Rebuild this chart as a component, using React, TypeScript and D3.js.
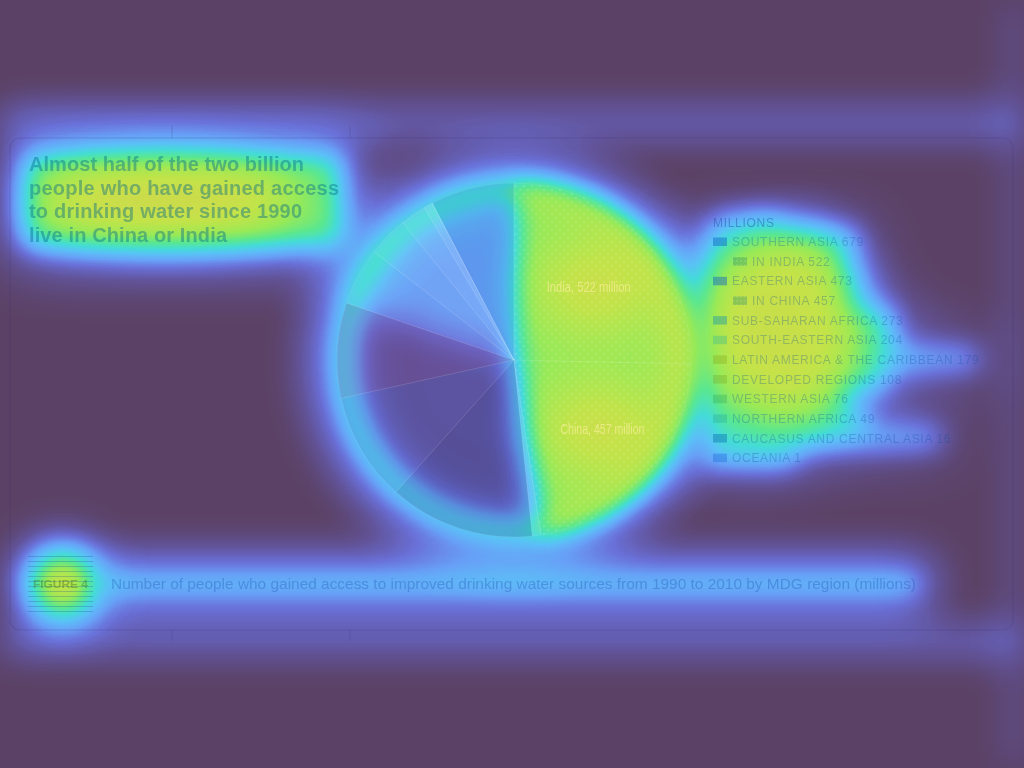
import React, { useMemo } from "react";
import * as d3 from "d3";

// ---------- data ----------
const regionNames = [
  "SOUTHERN ASIA",
  "EASTERN ASIA",
  "SUB-SAHARAN AFRICA",
  "SOUTH-EASTERN ASIA",
  "LATIN AMERICA & THE CARIBBEAN",
  "DEVELOPED REGIONS",
  "WESTERN ASIA",
  "NORTHERN AFRICA",
  "CAUCASUS AND CENTRAL ASIA",
  "OCEANIA",
];
const regionValues = [679, 473, 273, 204, 179, 108, 76, 49, 16, 1];
const countryNames = ["INDIA", "CHINA"];
const countryLabels = ["India", "China"];
const countryValues = [522, 457];
const countryParent = [0, 1];

const titleLines = [
  "Almost half of the two billion",
  "people who have gained access",
  "to drinking water since 1990",
  "live in China or India",
];
const legendTitle = "MILLIONS";
const figureLabel = "FIGURE 4";
const captionText =
  "Number of people who gained access to improved drinking water sources from 1990 to 2010 by MDG region (millions)";

// ---------- styling ----------
const W = 1024;
const H = 768;
const CX = 514;
const CY = 360;
const R = 177;

const heatStops: [number, string][] = [
  [0.0, "#5b4163"],
  [0.1, "#62549a"],
  [0.2, "#6a70d8"],
  [0.3, "#68a0f8"],
  [0.4, "#5cc0f8"],
  [0.5, "#44dcd8"],
  [0.6, "#5ae890"],
  [0.7, "#98ea58"],
  [0.8, "#c4e448"],
  [0.9, "#dccc50"],
  [1.0, "#e8a848"],
];

const sliceTint: Record<string, [string, number]> = {
  INDIA: ["#ffffff", 0.0],
  CHINA: ["#ffffff", 0.0],
  "EASTERN ASIA": ["#ffffff", 0.08],
  "SUB-SAHARAN AFRICA": ["#101850", 0.16],
  "SOUTH-EASTERN ASIA": ["#2a2a70", 0.1],
  "LATIN AMERICA & THE CARIBBEAN": ["#7a1838", 0.14],
  "DEVELOPED REGIONS": ["#ffffff", 0.04],
  "WESTERN ASIA": ["#ffffff", 0.07],
  "NORTHERN AFRICA": ["#ffffff", 0.1],
  "CAUCASUS AND CENTRAL ASIA": ["#ffffff", 0.16],
  OCEANIA: ["#ffffff", 0.16],
  "SOUTHERN ASIA": ["#1a50b0", 0.12],
};

const swatchTint: Record<string, [string, number]> = {
  "SOUTHERN ASIA": ["#1060c8", 0.45],
  INDIA: ["#10806a", 0.35],
  "EASTERN ASIA": ["#1060c8", 0.45],
  CHINA: ["#10806a", 0.35],
  "SUB-SAHARAN AFRICA": ["#0a90b0", 0.4],
  "SOUTH-EASTERN ASIA": ["#20b0a0", 0.3],
  "LATIN AMERICA & THE CARIBBEAN": ["#80a010", 0.3],
  "DEVELOPED REGIONS": ["#70a020", 0.3],
  "WESTERN ASIA": ["#30a050", 0.3],
  "NORTHERN AFRICA": ["#20a090", 0.3],
  "CAUCASUS AND CENTRAL ASIA": ["#0a70b0", 0.45],
  OCEANIA: ["#2a70e0", 0.45],
};

const sansFont = "'Liberation Sans', Arial, Helvetica, sans-serif";

type Slice = { key: string; value: number };

function heatTable() {
  const s = d3
    .scaleLinear<string>()
    .domain(heatStops.map((d) => d[0]))
    .range(heatStops.map((d) => d[1]))
    .interpolate(d3.interpolateRgb);
  const n = 64;
  const r: string[] = [];
  const g: string[] = [];
  const b: string[] = [];
  for (let i = 0; i < n; i++) {
    const c = d3.rgb(s(i / (n - 1)));
    r.push((c.r / 255).toFixed(4));
    g.push((c.g / 255).toFixed(4));
    b.push((c.b / 255).toFixed(4));
  }
  return { r: r.join(" "), g: g.join(" "), b: b.join(" ") };
}

export default function App() {
  const table = useMemo(heatTable, []);

  const slices: Slice[] = useMemo(() => {
    const out: Slice[] = [];
    out.push({ key: countryNames[0], value: countryValues[0] });
    out.push({ key: countryNames[1], value: countryValues[1] });
    out.push({ key: regionNames[1], value: regionValues[1] - countryValues[1] });
    for (let i = 2; i < regionNames.length; i++) out.push({ key: regionNames[i], value: regionValues[i] });
    out.push({ key: regionNames[0], value: regionValues[0] - countryValues[0] });
    return out;
  }, []);

  const arcs = d3.pie<Slice>().sort(null).value((d) => d.value)(slices);
  const arcGen = d3.arc<d3.PieArcDatum<Slice>>().innerRadius(0).outerRadius(R);
  const labelArc = d3.arc<d3.PieArcDatum<Slice>>().innerRadius(R * 1.18).outerRadius(0);

  type Row = { key: string; text: string; indent: boolean };
  const rows: Row[] = [];
  regionNames.forEach((n, i) => {
    rows.push({ key: n, text: `${n} ${regionValues[i]}`, indent: false });
    countryParent.forEach((p, j) => {
      if (p === i) rows.push({ key: countryNames[j], text: `IN ${countryNames[j]} ${countryValues[j]}`, indent: true });
    });
  });
  const legendX = 713;
  const legendY0 = 246;
  const rowStep = 19.65;
  const yRow = d3.scaleLinear().domain([0, 1]).range([legendY0, legendY0 + rowStep]);
  const rowW = (r: Row) => (r.indent ? 38 : 19) + r.text.length * 7.6;

  const titleX = 29;
  const titleY0 = 171;
  const titleStep = 23.5;
  const titleWidths = [275, 310, 273, 198];

  const capY = 589;
  const stripeYs = d3.range(12).map((i) => 556 + i * 5);

  const blurF = (id: string, sd: number) => (
    <filter id={id} filterUnits="userSpaceOnUse" x={-300} y={-300} width={W + 600} height={H + 600}>
      <feGaussianBlur stdDeviation={sd} />
    </filter>
  );

  const countryArcs = arcs.filter((a) => countryNames.includes(a.data.key));
  const upperLeft = arcs.filter((a) =>
    ["DEVELOPED REGIONS", "WESTERN ASIA", "NORTHERN AFRICA", "CAUCASUS AND CENTRAL ASIA", "OCEANIA"].includes(a.data.key)
  );
  const saRest = arcs.filter((a) => a.data.key === regionNames[0] || a.data.key === regionNames[1]);

  return (
    <svg
      width={W}
      height={H}
      viewBox={`0 0 ${W} ${H}`}
      style={{ position: "absolute", left: 0, top: 0, display: "block" }}
    >
      <defs>
        {blurF("b10", 10)}
        {blurF("b14", 14)}
        {blurF("b18", 18)}
        {blurF("b24", 24)}
        {blurF("b32", 32)}
        <filter
          id="heatmap"
          filterUnits="userSpaceOnUse"
          x={0}
          y={0}
          width={W}
          height={H}
          colorInterpolationFilters="sRGB"
        >
          <feColorMatrix
            in="SourceAlpha"
            type="matrix"
            values="0 0 0 1 0  0 0 0 1 0  0 0 0 1 0  0 0 0 0 1"
          />
          <feComponentTransfer>
            <feFuncR type="table" tableValues={table.r} />
            <feFuncG type="table" tableValues={table.g} />
            <feFuncB type="table" tableValues={table.b} />
          </feComponentTransfer>
        </filter>
        <pattern id="dots" width={8} height={8} patternUnits="userSpaceOnUse">
          <circle cx={2} cy={2} r={1.3} fill="#ffffff" opacity={0.12} />
          <circle cx={6} cy={6} r={1.3} fill="#ffffff" opacity={0.12} />
        </pattern>
        <pattern id="dotsSmall" width={4} height={4} patternUnits="userSpaceOnUse">
          <rect width={4} height={4} fill="#10806a" opacity={0.3} />
          <circle cx={1} cy={1} r={0.8} fill="#ffffff" opacity={0.25} />
        </pattern>
      </defs>

      {/* ---------- attention heat layer ---------- */}
      <g filter="url(#heatmap)">
        <rect x={0} y={0} width={W} height={H} fill="#fff" opacity={0.004} />
        <g filter="url(#b18)" fill="#fff">
          <rect x={0} y={106} width={W} height={34} opacity={0.17} />
          <rect x={0} y={626} width={W} height={30} opacity={0.18} />
          <rect x={1004} y={0} width={20} height={H} opacity={0.1} />
        </g>
        {/* title */}
        <g filter="url(#b32)" fill="#fff">
          <rect x={12} y={142} width={345} height={118} opacity={0.32} />
        </g>
        <g filter="url(#b14)" fill="#fff">
          <rect x={24} y={154} width={318} height={92} opacity={0.5} />
        </g>
        <g filter="url(#b24)" fill="#fff">
          <ellipse cx={165} cy={200} rx={130} ry={42} opacity={0.55} />
        </g>
        {/* pie */}
        <g filter="url(#b24)" transform={`translate(${CX},${CY})`}>
          <circle r={R} fill="none" stroke="#fff" strokeWidth={56} opacity={0.3} />
          <circle r={R - 40} fill="#fff" opacity={0.12} />
        </g>
        <g filter="url(#b10)" transform={`translate(${CX},${CY})`}>
          <circle r={R - 6} fill="none" stroke="#fff" strokeWidth={22} opacity={0.3} />
        </g>
        <g filter="url(#b14)" fill="#fff" transform={`translate(${CX},${CY})`}>
          {countryArcs.map((a) => (
            <path key={a.data.key} d={arcGen(a) || ""} opacity={0.63} />
          ))}
        </g>
        <g filter="url(#b18)" fill="#fff" transform={`translate(${CX},${CY})`}>
          {upperLeft.map((a) => (
            <path key={a.data.key} d={arcGen(a) || ""} opacity={0.2} />
          ))}
          {saRest.map((a) => (
            <path key={a.data.key} d={arcGen(a) || ""} opacity={0.22} />
          ))}
        </g>
        <g filter="url(#b32)" fill="#fff" transform={`translate(${CX},${CY})`}>
          {countryArcs.map((a) => {
            const [x, y] = labelArc.centroid(a);
            return <ellipse key={a.data.key} cx={x + 6} cy={y} rx={62} ry={42} opacity={0.6} />;
          })}
        </g>
        {/* legend */}
        <g filter="url(#b32)" fill="#fff">
          {rows.map((r, i) => (
            <rect key={r.key} x={legendX - 20} y={yRow(i) - 18} width={rowW(r) + 30} height={24} opacity={0.26} />
          ))}
          <ellipse cx={700} cy={335} rx={24} ry={95} opacity={0.22} />
        </g>
        <g filter="url(#b14)" fill="#fff">
          {rows.map((r, i) => (
            <rect key={r.key} x={legendX - 4} y={yRow(i) - 13} width={rowW(r)} height={16} opacity={0.42} />
          ))}
          <rect x={legendX - 4} y={legendY0 - 33} width={70} height={16} opacity={0.3} />
        </g>
        <g filter="url(#b24)" fill="#fff">
          <ellipse cx={785} cy={325} rx={80} ry={100} opacity={0.6} />
        </g>
        {/* caption */}
        <g filter="url(#b24)" fill="#fff">
          <rect x={96} y={562} width={834} height={44} opacity={0.4} />
        </g>
        <g filter="url(#b10)" fill="#fff">
          <rect x={106} y={577} width={812} height={14} opacity={0.2} />
        </g>
        <g filter="url(#b24)" fill="#fff">
          <circle cx={62} cy={584} r={46} opacity={0.35} />
        </g>
        <g filter="url(#b18)" fill="#fff">
          <ellipse cx={62} cy={584} rx={30} ry={30} opacity={0.9} />
        </g>
      </g>

      {/* ---------- chart ---------- */}
      <rect
        x={10}
        y={138}
        width={1003}
        height={492}
        rx={10}
        fill="none"
        stroke="#38307a"
        strokeOpacity={0.22}
      />
      {[172, 350].map((x) => (
        <g key={x} stroke="#38307a" strokeOpacity={0.22}>
          <line x1={x} x2={x} y1={126} y2={138} />
          <line x1={x} x2={x} y1={630} y2={641} />
        </g>
      ))}

      {/* title */}
      <g fontFamily={sansFont} fontWeight="bold" fontSize={20} fill="#006a8a" fillOpacity={0.42}>
        {titleLines.map((t, i) => (
          <text key={i} x={titleX} y={titleY0 + i * titleStep} textLength={titleWidths[i]} lengthAdjust="spacing">
            {t}
          </text>
        ))}
      </g>

      {/* pie */}
      <g transform={`translate(${CX},${CY})`}>
        {arcs.map((a) => {
          const [c, o] = sliceTint[a.data.key];
          return (
            <path
              key={a.data.key}
              d={arcGen(a) || ""}
              fill={c}
              fillOpacity={o}
              stroke="#ffffff"
              strokeOpacity={0.1}
              strokeWidth={0.8}
            />
          );
        })}
        {countryArcs.map((a) => (
          <path key={"p" + a.data.key} d={arcGen(a) || ""} fill="url(#dots)" />
        ))}
        {countryArcs.map((a, i) => {
          const [x, y] = labelArc.centroid(a);
          return (
            <text
              key={"l" + a.data.key}
              x={x + (i === 1 ? 10 : 0)}
              y={y + 5}
              textAnchor="middle"
              fontFamily={sansFont}
              fontSize={14}
              fill="#fff0a0"
              fillOpacity={0.65}
              textLength={84}
              lengthAdjust="spacingAndGlyphs"
            >
              {`${countryLabels[i]}, ${countryValues[i]} million`}
            </text>
          );
        })}
      </g>

      {/* legend */}
      <g fontFamily={sansFont} fontSize={12} letterSpacing={0.7}>
        <text x={legendX} y={legendY0 - 19.5} fill="#1a40a0" fillOpacity={0.4}>
          {legendTitle}
        </text>
        {rows.map((r, i) => {
          const [c, o] = swatchTint[r.key];
          const sx = r.indent ? legendX + 20 : legendX;
          return (
            <g key={r.key}>
              <rect
                x={sx}
                y={yRow(i) - 8.5}
                width={14}
                height={8.5}
                fill={r.indent ? "url(#dotsSmall)" : c}
                fillOpacity={r.indent ? 1 : o}
              />
              <text x={sx + 19} y={yRow(i)} fill="#0a4a9a" fillOpacity={0.28}>
                {r.text}
              </text>
            </g>
          );
        })}
      </g>

      {/* caption */}
      <g stroke="#2050a0" strokeOpacity={0.28}>
        {stripeYs.map((y) => (
          <line key={y} x1={28} x2={93} y1={y + 0.5} y2={y + 0.5} />
        ))}
      </g>
      <text
        x={33}
        y={capY - 1}
        fontFamily={sansFont}
        fontWeight="bold"
        fontSize={11}
        fill="#3a7020"
        fillOpacity={0.4}
        textLength={55}
        lengthAdjust="spacingAndGlyphs"
      >
        {figureLabel}
      </text>
      <text
        x={111}
        y={capY}
        fontFamily={sansFont}
        fontSize={14.5}
        fill="#1a4ab0"
        fillOpacity={0.32}
        textLength={805}
        lengthAdjust="spacingAndGlyphs"
      >
        {captionText}
      </text>
    </svg>
  );
}
